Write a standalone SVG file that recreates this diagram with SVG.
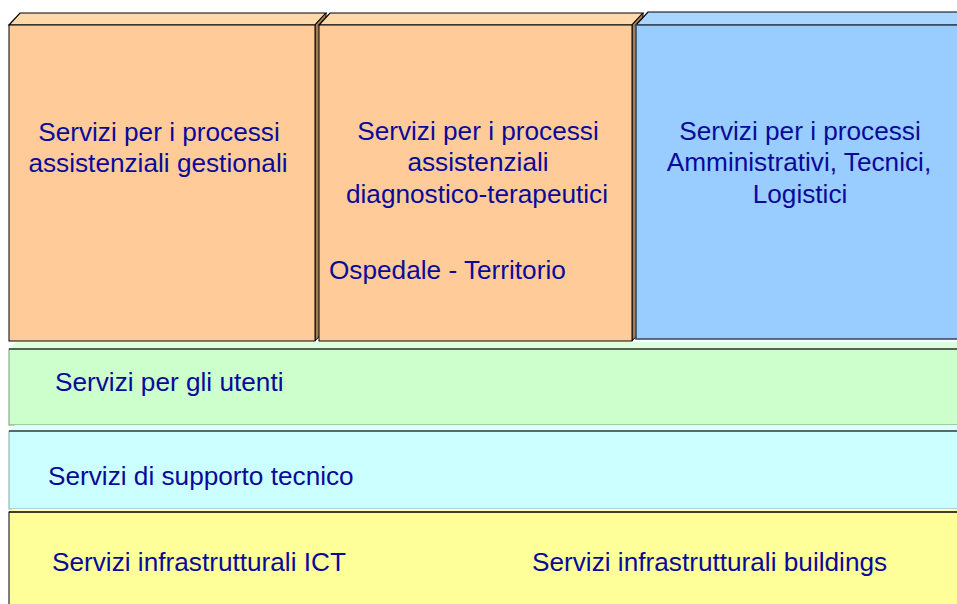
<svg xmlns="http://www.w3.org/2000/svg" width="957" height="604" viewBox="0 0 957 604">
<style>
.t{font-family:"Liberation Sans",Arial,sans-serif;font-size:26.2px;fill:#0A0A99}
.c{text-anchor:middle}
.ed{stroke:#000;stroke-width:1.2}
.or{fill:#FFCC99}
.ortop{fill:#FFD9AA}
.side{fill:#A67C55;stroke:#000;stroke-width:1}
.bl{fill:#99CCFF}
.bltop{fill:#AAD5FF}
</style>
<rect width="957" height="604" fill="#fff"/>
<g id="box1">
<polygon class="ortop ed" points="9,25 20,13 326,13 315,25"/>
<polygon class="side" points="315,25 326,13 326,329 315,341"/>
<rect class="or" x="9" y="25" width="306" height="316" stroke="#000" stroke-width="1"/>
<text class="t c" x="159" y="141">Servizi per i processi</text>
<text class="t c" x="158" y="172">assistenziali gestionali</text>
</g>
<g id="box2">
<polygon class="ortop ed" points="319,25 330,13 643,13 632,25"/>
<polygon class="side" points="632,25 643,13 643,329 632,341"/>
<rect class="or" x="319" y="25" width="313" height="316" stroke="#000" stroke-width="1"/>
<text class="t c" x="478" y="140">Servizi per i processi</text>
<text class="t c" x="478" y="171">assistenziali</text>
<text class="t c" x="477" y="203">diagnostico-terapeutici</text>
<text class="t" x="329" y="279">Ospedale - Territorio</text>
</g>
<g id="box3">
<polygon class="bltop ed" points="636,25 648,12 980,12 968,25"/>
<rect class="bl" x="636" y="25" width="330" height="314" stroke="#334455" stroke-width="1.5"/>
<text class="t c" x="800" y="140">Servizi per i processi</text>
<text class="t c" x="799" y="171">Amministrativi, Tecnici,</text>
<text class="t c" x="800" y="203">Logistici</text>
</g>
<g id="band1">
<polygon fill="#DDFFDD" points="9,349 16,342 980,342 980,349"/>
<rect x="9" y="349" width="980" height="76" fill="#CCFFCC" stroke="#779977" stroke-width="1"/>
<line x1="9" y1="349" x2="980" y2="349" stroke="#000" stroke-width="1.2"/>
<text class="t" x="55" y="391">Servizi per gli utenti</text>
</g>
<g id="band2">
<polygon fill="#DDFFFF" points="9,431 15,425 980,425 980,431"/>
<rect x="9" y="431" width="980" height="78" fill="#CCFFFF" stroke="#88AAAA" stroke-width="1"/>
<line x1="9" y1="431" x2="980" y2="431" stroke="#000" stroke-width="1.2"/>
<text class="t" x="48" y="485">Servizi di supporto tecnico</text>
</g>
<g id="band3">
<polygon fill="#FFFFBB" points="9,512 12,509 980,509 980,512"/>
<rect x="9" y="512" width="980" height="100" fill="#FFFF99" stroke="#000" stroke-width="1"/>
<line x1="9" y1="512" x2="980" y2="512" stroke="#000" stroke-width="1.2"/>
<text class="t" x="52" y="571">Servizi infrastrutturali ICT</text>
<text class="t" x="532" y="571">Servizi infrastrutturali buildings</text>
</g>
<g id="connectors"/>
</svg>
